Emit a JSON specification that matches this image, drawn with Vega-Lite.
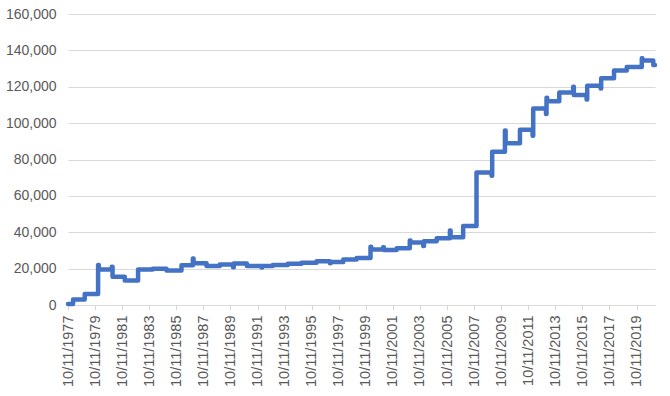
{
  "$schema": "https://vega.github.io/schema/vega-lite/v6.json",
  "width": 587,
  "height": 291,
  "autosize": {"type": "none"},
  "padding": {"left": 68, "top": 14, "right": 15, "bottom": 91},
  "background": "white",
  "config": {"view": {"stroke": null}},
  "data": {
    "values": [
      {"date": "1977-10-11", "value": 500},
      {"date": "1978-02-25", "value": 3000},
      {"date": "1979-01-05", "value": 6000},
      {"date": "1980-01-01", "value": 22000},
      {"date": "1980-01-20", "value": 19500},
      {"date": "1981-01-05", "value": 21000},
      {"date": "1981-01-25", "value": 15500},
      {"date": "1981-12-20", "value": 13500},
      {"date": "1982-12-15", "value": 19500},
      {"date": "1984-01-15", "value": 20000},
      {"date": "1985-01-20", "value": 19000},
      {"date": "1986-02-28", "value": 21800},
      {"date": "1987-01-01", "value": 25500},
      {"date": "1987-01-20", "value": 23000},
      {"date": "1988-01-05", "value": 21500},
      {"date": "1988-12-28", "value": 22300},
      {"date": "1989-12-20", "value": 20800},
      {"date": "1990-01-10", "value": 22800},
      {"date": "1990-12-28", "value": 21400},
      {"date": "1992-01-25", "value": 20600},
      {"date": "1992-02-15", "value": 21500},
      {"date": "1992-11-28", "value": 22000},
      {"date": "1994-01-05", "value": 22700},
      {"date": "1995-01-10", "value": 23200},
      {"date": "1996-02-20", "value": 24000},
      {"date": "1997-02-15", "value": 23000},
      {"date": "1997-03-05", "value": 23700},
      {"date": "1998-02-10", "value": 25000},
      {"date": "1999-02-05", "value": 25800},
      {"date": "2000-02-15", "value": 32000},
      {"date": "2000-03-05", "value": 30500},
      {"date": "2001-01-20", "value": 31800},
      {"date": "2001-02-10", "value": 30200},
      {"date": "2002-01-20", "value": 31200},
      {"date": "2003-01-10", "value": 35400},
      {"date": "2003-01-30", "value": 34300},
      {"date": "2004-01-08", "value": 32500},
      {"date": "2004-01-28", "value": 35000},
      {"date": "2005-01-05", "value": 36700},
      {"date": "2005-12-28", "value": 41000},
      {"date": "2006-01-15", "value": 37200},
      {"date": "2006-12-20", "value": 43500},
      {"date": "2007-12-15", "value": 72800},
      {"date": "2009-01-25", "value": 71000},
      {"date": "2009-02-10", "value": 84300},
      {"date": "2010-01-20", "value": 95900},
      {"date": "2010-02-08", "value": 88900},
      {"date": "2011-03-01", "value": 96300},
      {"date": "2012-02-05", "value": 93000},
      {"date": "2012-02-22", "value": 108000},
      {"date": "2013-02-01", "value": 105000},
      {"date": "2013-02-15", "value": 114000},
      {"date": "2013-03-05", "value": 112000},
      {"date": "2014-01-25", "value": 116800},
      {"date": "2015-02-05", "value": 120000},
      {"date": "2015-02-22", "value": 115500},
      {"date": "2016-02-01", "value": 113000},
      {"date": "2016-02-18", "value": 120500},
      {"date": "2017-02-15", "value": 119000},
      {"date": "2017-03-01", "value": 124700},
      {"date": "2018-02-10", "value": 128900},
      {"date": "2019-01-20", "value": 130800},
      {"date": "2020-03-01", "value": 135700},
      {"date": "2020-03-18", "value": 134400},
      {"date": "2021-01-05", "value": 132000},
      {"date": "2021-02-20", "value": 132000}
    ]
  },
  "mark": {
    "type": "line",
    "interpolate": "step-after",
    "color": "#4472C4",
    "strokeWidth": 4.5,
    "strokeJoin": "round",
    "strokeCap": "round"
  },
  "encoding": {
    "x": {
      "field": "date",
      "type": "temporal",
      "scale": {"type": "utc", "domain": [{"year": 1977, "month": 10, "date": 11, "utc": true}, {"year": 2021, "month": 2, "date": 20, "utc": true}]},
      "axis": {
        "title": null,
        "format": "%m/%d/%Y",
        "values": [
          {"year": 1977, "month": 10, "date": 11, "utc": true},
          {"year": 1979, "month": 10, "date": 11, "utc": true},
          {"year": 1981, "month": 10, "date": 11, "utc": true},
          {"year": 1983, "month": 10, "date": 11, "utc": true},
          {"year": 1985, "month": 10, "date": 11, "utc": true},
          {"year": 1987, "month": 10, "date": 11, "utc": true},
          {"year": 1989, "month": 10, "date": 11, "utc": true},
          {"year": 1991, "month": 10, "date": 11, "utc": true},
          {"year": 1993, "month": 10, "date": 11, "utc": true},
          {"year": 1995, "month": 10, "date": 11, "utc": true},
          {"year": 1997, "month": 10, "date": 11, "utc": true},
          {"year": 1999, "month": 10, "date": 11, "utc": true},
          {"year": 2001, "month": 10, "date": 11, "utc": true},
          {"year": 2003, "month": 10, "date": 11, "utc": true},
          {"year": 2005, "month": 10, "date": 11, "utc": true},
          {"year": 2007, "month": 10, "date": 11, "utc": true},
          {"year": 2009, "month": 10, "date": 11, "utc": true},
          {"year": 2011, "month": 10, "date": 11, "utc": true},
          {"year": 2013, "month": 10, "date": 11, "utc": true},
          {"year": 2015, "month": 10, "date": 11, "utc": true},
          {"year": 2017, "month": 10, "date": 11, "utc": true},
          {"year": 2019, "month": 10, "date": 11, "utc": true}
        ],
        "labelAngle": 270,
        "labelAlign": "right",
        "labelBaseline": "middle",
        "labelOverlap": false,
        "labelFont": "Liberation Sans",
        "labelFontSize": 14.5,
        "labelColor": "#595959",
        "labelPadding": 5,
        "tickSize": 5,
        "tickColor": "#D9D9D9",
        "domainColor": "#D9D9D9",
        "grid": false
      }
    },
    "y": {
      "field": "value",
      "type": "quantitative",
      "scale": {"domain": [0, 160000]},
      "axis": {
        "title": null,
        "values": [0, 20000, 40000, 60000, 80000, 100000, 120000, 140000, 160000],
        "format": ",.0f",
        "domain": false,
        "ticks": false,
        "labelFont": "Liberation Sans",
        "labelFontSize": 14,
        "labelColor": "#595959",
        "labelPadding": 12,
        "gridColor": "#D9D9D9",
        "gridWidth": 1
      }
    }
  }
}
